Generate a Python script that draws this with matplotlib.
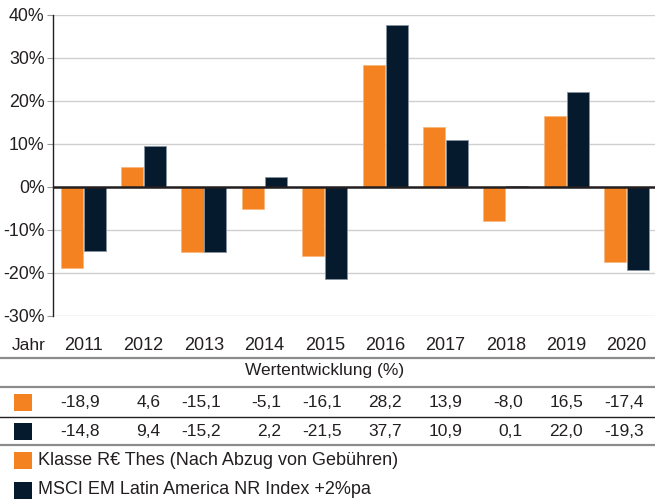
import matplotlib.pyplot as plt
import matplotlib.transforms as mtransforms
from matplotlib.patches import Rectangle
from matplotlib.lines import Line2D

plt.rcParams['font.family'] = ['Liberation Sans', 'DejaVu Sans']

# data
years = ['2011', '2012', '2013', '2014', '2015', '2016', '2017', '2018', '2019', '2020']
fund = [-18.9, 4.6, -15.1, -5.1, -16.1, 28.2, 13.9, -8.0, 16.5, -17.4]
index = [-14.8, 9.4, -15.2, 2.2, -21.5, 37.7, 10.9, 0.1, 22.0, -19.3]
fund_label = 'Klasse R€ Thes (Nach Abzug von Gebühren)'
index_label = 'MSCI EM Latin America NR Index +2%pa'
yticks = [-30, -20, -10, 0, 10, 20, 30, 40]

orange = '#f58220'
navy = '#061a2e'
txt = '#231f20'

W, H = 655, 501
fig = plt.figure(figsize=(W / 100, H / 100), dpi=100)


def fy(y):
    # pixel row -> figure fraction
    return 1 - y / H


ax = fig.add_axes([53 / W, fy(316), (W - 53) / W, (316 - 14.7) / H])

x = list(range(len(years)))
ax.bar([i - 0.19 for i in x], fund, width=0.365, color=orange,
       edgecolor='#f8b57a', linewidth=0.5, zorder=3)
ax.bar([i + 0.19 for i in x], index, width=0.365, color=navy,
       edgecolor='#8792a0', linewidth=0.6, zorder=3)

ax.set_xlim(-0.5, 9.47)
ax.set_ylim(-30, 40)
ax.set_yticks(yticks)
ax.set_yticklabels([f'{v}%' for v in yticks], fontsize=12.8, color=txt)
ax.set_xticks([])
ax.yaxis.grid(True, color='#cfcfcf', linewidth=1, zorder=0)
ax.axhline(0, color=txt, linewidth=1.8, zorder=4)
ax.tick_params(axis='y', length=4, width=0.8, color='#999999', pad=2)
for s in ['top', 'right', 'bottom']:
    ax.spines[s].set_visible(False)
ax.spines['left'].set_color(txt)
ax.spines['left'].set_linewidth(1)
ax.spines['left'].set_zorder(5)

# table below the chart
tr = mtransforms.blended_transform_factory(ax.transData, fig.transFigure)
off = 17 / 60.4

fig.text(12 / W, fy(345), 'Jahr', fontsize=12.5, color=txt, va='center')
for i, yr in enumerate(years):
    ax.text(i, fy(345), yr, transform=tr, fontsize=13, color=txt,
            ha='center', va='center')
    ax.text(i + off, fy(402.5), f'{fund[i]:.1f}'.replace('.', ','), transform=tr,
            fontsize=12.5, color=txt, ha='right', va='center')
    ax.text(i + off, fy(431.5), f'{index[i]:.1f}'.replace('.', ','), transform=tr,
            fontsize=12.5, color=txt, ha='right', va='center')

fig.text(325 / W, fy(371), 'Wertentwicklung (%)', fontsize=12.5,
         color=txt, ha='center', va='center')

for y, c, lw in [(358, '#8c8c8c', 1.6), (387, '#8c8c8c', 1.6), (416.5, txt, 1.0), (445, '#8c8c8c', 1.6)]:
    fig.add_artist(Line2D([0, 1], [fy(y), fy(y)], color=c, linewidth=lw, transform=fig.transFigure))

for y, c in [(402.5, orange), (431.5, navy), (460.5, orange), (490, navy)]:
    fig.add_artist(Rectangle((14 / W, fy(y + 8.5)), 18 / W, 17 / H, facecolor=c,
                             edgecolor='none', transform=fig.transFigure))

fig.text(38 / W, fy(460.5), fund_label, fontsize=13, color=txt, va='center')
fig.text(38 / W, fy(490), index_label, fontsize=13, color=txt, va='center')

fig.savefig('out.png', dpi=100)
